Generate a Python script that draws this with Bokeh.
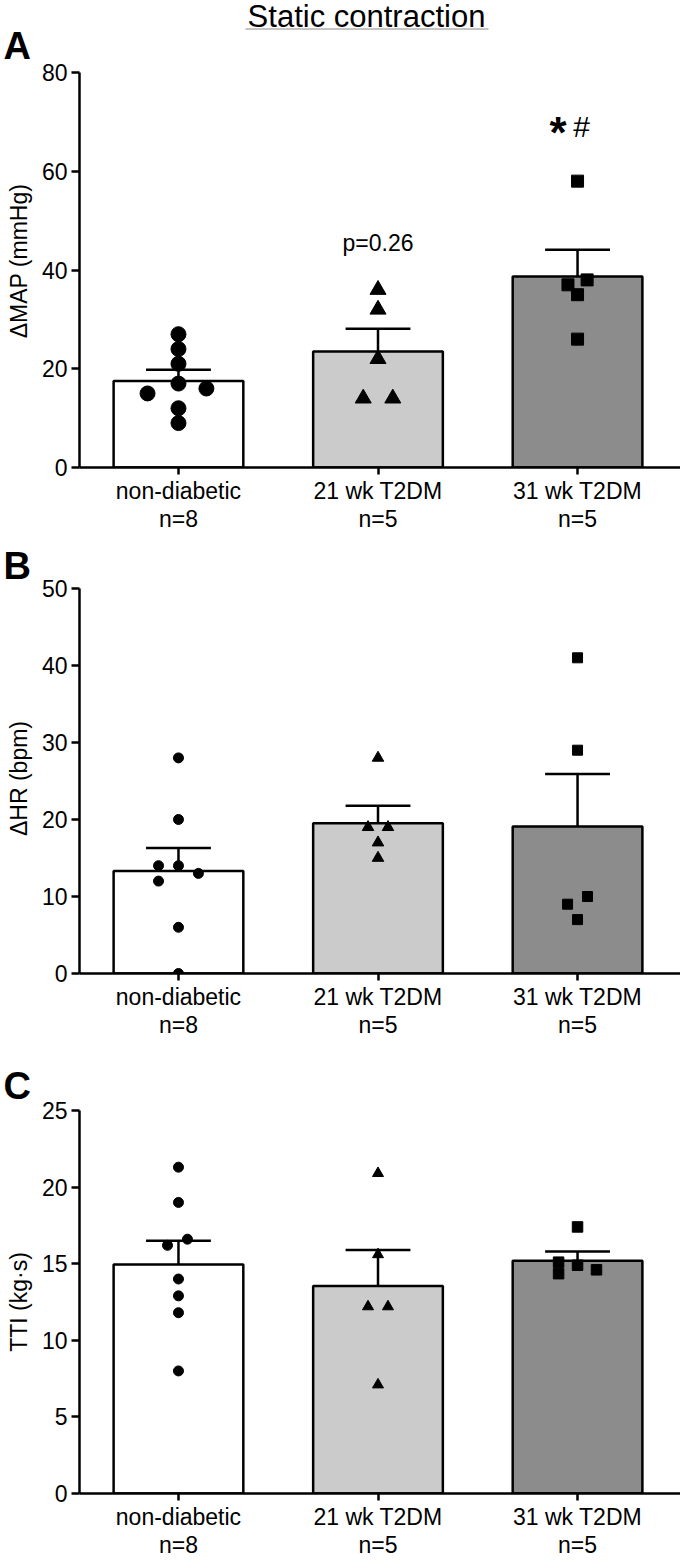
import math
from bokeh.plotting import figure
from bokeh.layouts import column, row
from bokeh.models import Range1d, FixedTicker, Label
from bokeh.core.properties import value
from bokeh.embed import file_html
from bokeh.resources import INLINE

# ---------------- data ----------------
groups = ["non-diabetic", "21 wk T2DM", "31 wk T2DM"]
n_labels = ["n=8", "n=5", "n=5"]

map_nd = [27, 24, 21, 17, 15, 16, 12, 9]
map_21 = [36, 32, 22, 14, 14]
map_31 = [58, 38, 37, 35, 26]
map_mean = [17.5, 23.5, 38.7]
map_sem = [2.3, 4.6, 5.4]
map_ticks = [0, 20, 40, 60, 80]

hr_nd = [28, 20, 14, 14, 13, 12, 6, 0]
hr_21 = [28, 19, 19, 17, 15]
hr_31 = [41, 29, 10, 9, 7]
hr_mean = [13.3, 19.5, 19.1]
hr_sem = [3.0, 2.3, 6.8]
hr_ticks = [0, 10, 20, 30, 40, 50]

tti_nd = [21.3, 19.0, 16.6, 16.2, 14.0, 12.9, 11.8, 8.0]
tti_21 = [20.9, 15.6, 12.2, 12.2, 7.1]
tti_31 = [17.4, 15.1, 14.9, 14.6, 14.35]
tti_mean = [14.95, 13.55, 15.2]
tti_sem = [1.55, 2.35, 0.6]
tti_ticks = [0, 5, 10, 15, 20, 25]

panel_letters = ["A", "B", "C"]
y_labels = ["\u0394MAP (mmHg)", "\u0394HR (bpm)", "TTI (kg\u00b7s)"]
title_text = "Static contraction"

# ---------------- layout / style ----------------
FONT = "Liberation Sans"
H = 1568
STRIP_W = 36
RW = 680 - STRIP_W
bar_colors = ["#ffffff", "#cbcbcb", "#8c8c8c"]
markers = ["circle", "triangle", "square"]

jit_A = [[0, 0, 0, 0, -0.155, 0.14, 0, 0], [0, 0, 0, -0.074, 0.074], [0, 0.048, -0.048, 0, 0]]
jit_B = [[0, 0, -0.1, 0, 0.1, -0.1, 0, 0], [0, -0.05, 0.05, 0, 0], [0, 0, 0.05, -0.05, 0]]
jit_C = [[0, 0, 0.045, -0.055, 0, 0, 0, 0], [0, 0, -0.05, 0.05, 0], [0, -0.095, 0, 0.095, -0.095]]


def blank(width, height):
    f = figure(width=width, height=height, x_range=Range1d(0, width),
               y_range=Range1d(height, 0), x_axis_type=None, y_axis_type=None,
               output_backend="svg", toolbar_location=None, min_border=0)
    try:
        f.frame_align = False
    except Exception:
        pass
    f.outline_line_color = None
    f.xgrid.visible = False
    f.ygrid.visible = False
    return f


# left strip: panel letters and rotated y-axis titles
strip = blank(STRIP_W, H)
strip.text(x=[3, 3, 3], y=[45.5, 565, 1085.5], text=panel_letters, text_font=value(FONT),
           text_font_size=value("38px"), text_font_style="bold", text_color="black",
           text_align="left", text_baseline="middle")
strip.text(x=[18.5, 18.5, 18.5], y=[260.5, 778, 1301.5], text=y_labels, angle=math.pi / 2,
           text_font=value(FONT), text_font_size=value("23px"), text_color="black",
           text_align="center", text_baseline="middle")

# header with the underlined title
HEAD_H = 33
head = blank(RW, HEAD_H)
head.text(x=[366 - STRIP_W], y=[15.5], text=[title_text], text_font=value(FONT),
          text_font_size=value("31px"), text_color="black",
          text_align="center", text_baseline="middle")
head.segment(x0=[245 - STRIP_W], y0=[28.5], x1=[488 - STRIP_W], y1=[28.5],
             line_color="#8a8a8a", line_width=1.2)


def make_panel(points, means, sems, ticks, jit, msizes, height, top, bottom):
    ymax = ticks[-1]
    p = figure(width=RW, height=height, x_range=Range1d(-0.496, 2.516),
               y_range=Range1d(0, ymax), output_backend="svg", toolbar_location=None,
               min_border_left=79 - STRIP_W, min_border_right=0, min_border_top=top,
               min_border_bottom=bottom)
    p.outline_line_color = None
    p.xgrid.visible = False
    p.ygrid.visible = False
    p.background_fill_color = "white"

    xs = [0, 1, 2]
    tops = [m + s for m, s in zip(means, sems)]
    # error bars (upper only)
    p.segment(x0=xs, y0=means, x1=xs, y1=tops, line_color="black", line_width=2.5)
    p.segment(x0=[x - 0.1625 for x in xs], y0=tops, x1=[x + 0.1625 for x in xs], y1=tops,
              line_color="black", line_width=2.5)
    # bars
    p.vbar(x=xs, top=means, bottom=0, width=0.65, fill_color=bar_colors,
           line_color="black", line_width=2.5)
    # points
    for i, vals in enumerate(points):
        px = [i + j for j in jit[i]]
        p.scatter(x=px, y=vals, marker=markers[i], size=msizes[i], color="black")

    # axes
    p.yaxis.ticker = FixedTicker(ticks=ticks)
    p.xaxis.ticker = FixedTicker(ticks=xs)
    p.xaxis.major_label_overrides = {i: f"{groups[i]}\n{n_labels[i]}" for i in xs}
    for ax in (p.xaxis[0], p.yaxis[0]):
        ax.axis_line_width = 2.5
        ax.axis_line_color = "black"
        ax.major_tick_line_width = 2.5
        ax.major_tick_line_color = "black"
        ax.minor_tick_line_color = None
        ax.major_tick_in = 0
        ax.major_label_text_font = FONT
        ax.major_label_text_color = "black"
    p.yaxis.major_tick_out = 8
    p.yaxis.major_label_standoff = 4
    p.yaxis.major_label_text_font_size = "23px"
    p.xaxis.major_tick_out = 7
    p.xaxis.major_label_standoff = 3
    p.xaxis.major_label_text_font_size = "23px"
    p.xaxis.major_label_text_line_height = 1.1
    return p


# page rows: 0-33 header, 33-540 panel A, 540-1060 panel B, 1060-1568 panel C
pA = make_panel([map_nd, map_21, map_31], map_mean, map_sem, map_ticks,
                jit_A, [15, 16, 12], 540 - HEAD_H, 72 - HEAD_H, 73)
pB = make_panel([hr_nd, hr_21, hr_31], hr_mean, hr_sem, hr_ticks,
                jit_B, [10, 11.5, 10], 520, 48, 87)
pC = make_panel([tti_nd, tti_21, tti_31], tti_mean, tti_sem, tti_ticks,
                jit_C, [10, 11, 10.5], 508, 50, 75)

# significance annotations (inside panel A frame)
pA.add_layout(Label(x=1, y=45.5, text="p=0.26", text_font=FONT, text_font_size="23px",
                    text_color="black", text_align="center", text_baseline="middle"))
pA.add_layout(Label(x=1.859, y=67.8, text="*", text_font=FONT, text_font_size="44px",
                    text_font_style="bold", text_color="black", text_align="left",
                    text_baseline="alphabetic"))
pA.add_layout(Label(x=1.979, y=69.1, text="#", text_font=FONT, text_font_size="30px",
                    text_color="black", text_align="left", text_baseline="middle"))

layout = row(strip, column(head, pA, pB, pC, spacing=0), spacing=0)
open("out.html", "w").write(file_html(layout, INLINE))
